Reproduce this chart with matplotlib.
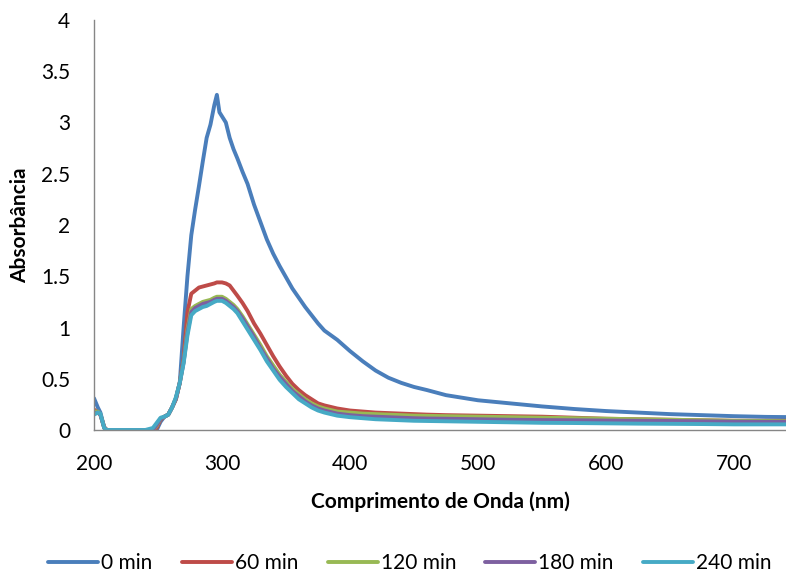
import matplotlib
matplotlib.use("Agg")
import matplotlib.pyplot as plt

plt.rcParams['font.family'] = ['Lato', 'DejaVu Sans']

wavelength = [200, 203, 205, 208, 210, 220, 230, 240, 246, 249, 252, 255, 258, 261, 264,
              267, 270, 273, 276, 279, 282, 285, 288, 291, 294, 296, 298, 300, 303, 306,
              309, 312, 316, 320, 325, 330, 335, 340, 345, 350, 355, 360, 365, 370, 375,
              380, 390, 400, 410, 420, 430, 440, 450, 460, 475, 500, 525, 550, 575, 600,
              625, 650, 675, 700, 725, 750]

abs_0 = [0.31, 0.22, 0.17, 0.02, 0, 0, 0, 0, 0, 0, 0.08, 0.13, 0.15, 0.22, 0.30,
         0.46, 1.00, 1.50, 1.90, 2.15, 2.38, 2.62, 2.85, 2.98, 3.17, 3.27, 3.10, 3.06, 3.00, 2.85,
         2.74, 2.65, 2.52, 2.40, 2.20, 2.03, 1.86, 1.72, 1.60, 1.49, 1.38, 1.29, 1.20, 1.12, 1.04,
         0.97, 0.88, 0.77, 0.67, 0.58, 0.51, 0.46, 0.42, 0.39, 0.34, 0.29, 0.26, 0.23, 0.205, 0.185,
         0.17, 0.155, 0.145, 0.135, 0.128, 0.125]

abs_60 = [0.20, 0.17, 0.15, 0.03, 0, 0, 0, 0, 0, 0.02, 0.10, 0.13, 0.15, 0.22, 0.30,
          0.46, 0.70, 1.15, 1.33, 1.36, 1.39, 1.40, 1.41, 1.42, 1.43, 1.44, 1.44, 1.44, 1.43, 1.41,
          1.36, 1.31, 1.24, 1.16, 1.04, 0.94, 0.83, 0.72, 0.62, 0.53, 0.45, 0.39, 0.34, 0.30, 0.26,
          0.24, 0.21, 0.19, 0.18, 0.17, 0.165, 0.16, 0.155, 0.15, 0.145, 0.14, 0.135, 0.13, 0.12, 0.11,
          0.105, 0.10, 0.095, 0.09, 0.09, 0.09]

abs_120 = [0.18, 0.18, 0.15, 0.02, 0, 0, 0, 0, 0, 0.04, 0.11, 0.13, 0.15, 0.22, 0.31,
           0.46, 0.67, 0.98, 1.18, 1.21, 1.23, 1.25, 1.26, 1.27, 1.29, 1.30, 1.30, 1.30, 1.28, 1.25,
           1.22, 1.18, 1.11, 1.03, 0.93, 0.83, 0.72, 0.63, 0.54, 0.47, 0.40, 0.35, 0.30, 0.26, 0.23,
           0.21, 0.18, 0.17, 0.16, 0.155, 0.15, 0.145, 0.14, 0.138, 0.135, 0.13, 0.125, 0.12, 0.115, 0.11,
           0.105, 0.10, 0.095, 0.09, 0.088, 0.085]

abs_180 = [0.16, 0.17, 0.15, 0.02, 0, 0, 0, 0, 0, 0.05, 0.11, 0.13, 0.15, 0.22, 0.31,
           0.46, 0.66, 0.95, 1.15, 1.19, 1.21, 1.23, 1.24, 1.25, 1.27, 1.28, 1.28, 1.28, 1.26, 1.23,
           1.20, 1.16, 1.09, 1.01, 0.91, 0.80, 0.70, 0.60, 0.52, 0.45, 0.38, 0.33, 0.28, 0.24, 0.21,
           0.19, 0.16, 0.145, 0.135, 0.13, 0.125, 0.12, 0.115, 0.112, 0.11, 0.105, 0.10, 0.097, 0.095, 0.092,
           0.09, 0.088, 0.085, 0.082, 0.08, 0.08]

abs_240 = [0.15, 0.17, 0.16, 0.02, 0, 0, 0, 0, 0.02, 0.07, 0.12, 0.13, 0.15, 0.22, 0.32,
           0.46, 0.65, 0.92, 1.12, 1.16, 1.18, 1.20, 1.21, 1.23, 1.25, 1.26, 1.26, 1.26, 1.24, 1.21,
           1.18, 1.14, 1.06, 0.98, 0.88, 0.78, 0.67, 0.58, 0.49, 0.42, 0.36, 0.30, 0.26, 0.22, 0.19,
           0.17, 0.14, 0.125, 0.115, 0.105, 0.10, 0.095, 0.09, 0.088, 0.085, 0.08, 0.075, 0.07, 0.068, 0.065,
           0.062, 0.06, 0.058, 0.055, 0.055, 0.055]

series_labels = ['0 min', '60 min', '120 min', '180 min', '240 min']
series_values = [abs_0, abs_60, abs_120, abs_180, abs_240]
colors = ['#4A7EBB', '#BE4B48', '#98B954', '#7D60A0', '#46AAC5']

x_ticks = [200, 300, 400, 500, 600, 700]
y_ticks = [0, 0.5, 1, 1.5, 2, 2.5, 3, 3.5, 4]
y_ticklabels = ['0', '0.5', '1', '1.5', '2', '2.5', '3', '3.5', '4']

W, H = 786, 575
fig = plt.figure(figsize=(W / 100, H / 100), dpi=100)
ax = fig.add_axes([94 / W, 1 - 430 / H, (W - 94) / W, 410 / H])

for vals, lab, c in zip(series_values, series_labels, colors):
    ax.plot(wavelength, vals, color=c, lw=2.8, label=lab, solid_joinstyle='round',
            solid_capstyle='round', clip_on=True)

ax.set_xlim(200, 200 + (W - 94) / 1.28)
ax.set_ylim(0, 4)
ax.set_xticks(x_ticks)
ax.set_yticks(y_ticks)
ax.set_yticklabels(y_ticklabels)
ax.tick_params(axis='both', length=0, labelsize=15, colors='#000000')
ax.tick_params(axis='y', pad=17)
ax.tick_params(axis='x', pad=17)
for s in ['top', 'right']:
    ax.spines[s].set_visible(False)
for s in ['left', 'bottom']:
    ax.spines[s].set_color('#868686')
    ax.spines[s].set_linewidth(1.0)

fig.text(440 / W, 1 - 502 / H, 'Comprimento de Onda (nm)', ha='center', va='center',
         fontsize=15, fontweight='bold')
fig.text(20 / W, 1 - 225 / H, 'Absorbância', ha='center', va='center', rotation=90,
         fontsize=15, fontweight='bold')

handles, labels = ax.get_legend_handles_labels()
fig.legend(handles, labels, loc='center', bbox_to_anchor=(410 / W, 1 - 563 / H), ncol=5,
           frameon=False, fontsize=15, handlelength=2.4, handletextpad=0.15,
           columnspacing=1.4, borderaxespad=0)

fig.savefig('out.png', dpi=100)
